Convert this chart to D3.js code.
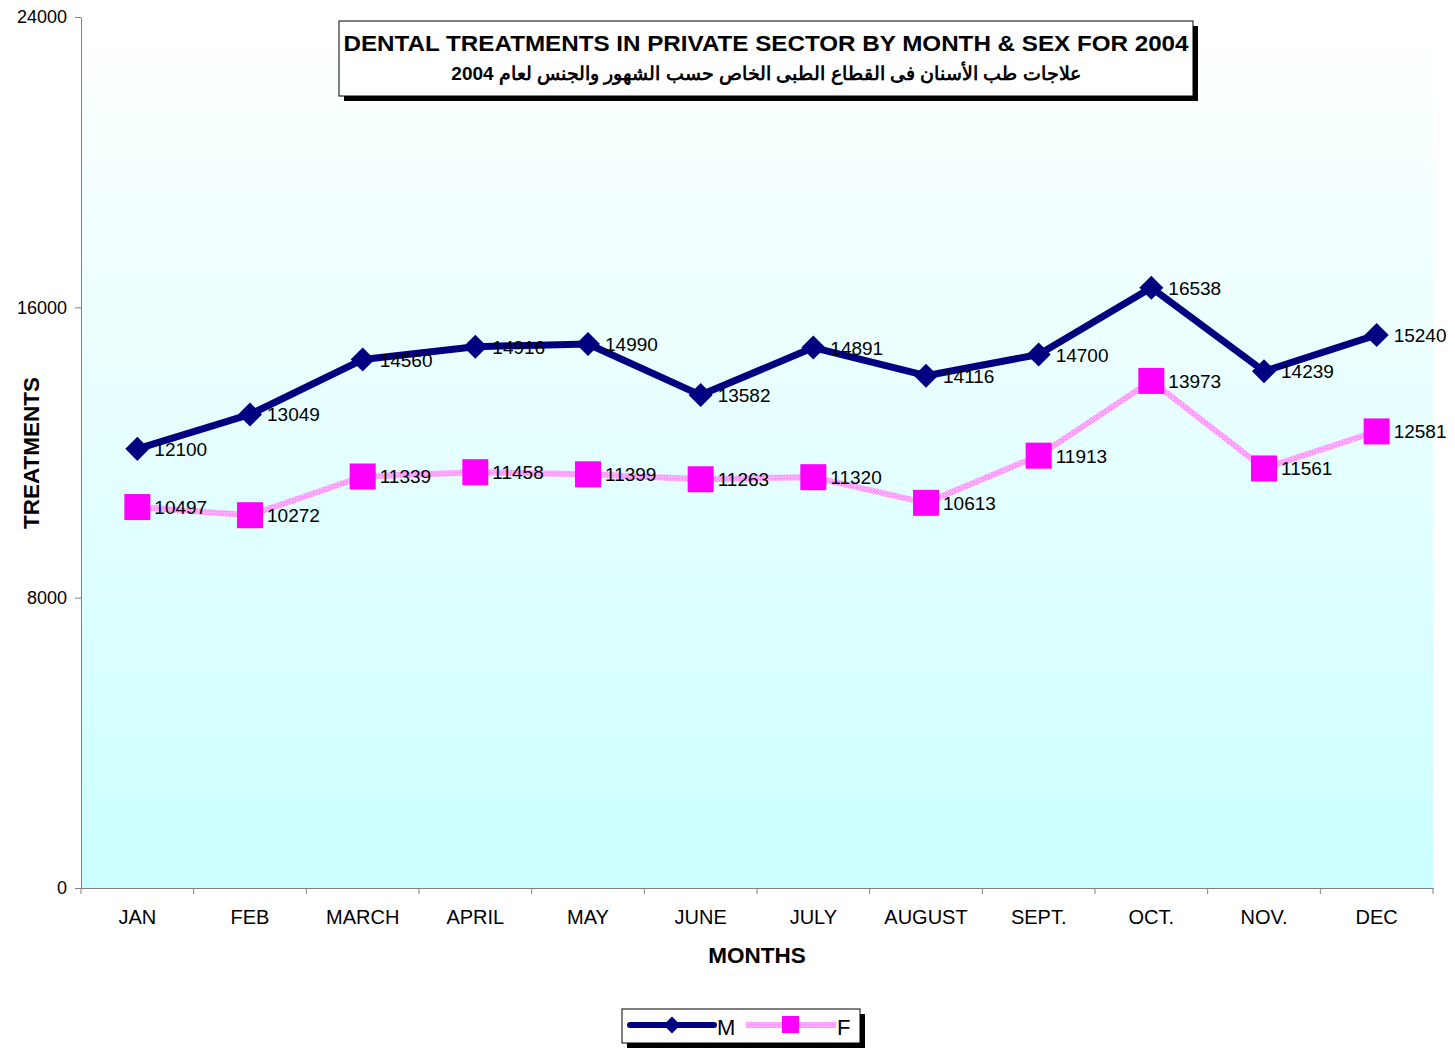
<!DOCTYPE html>
<html>
<head>
<meta charset="utf-8">
<script src="https://cdn.jsdelivr.net/npm/d3@7"></script>
<style>
  body { margin: 0; background: #fff; }
  text { font-family: "Liberation Sans", Arial, sans-serif; }
</style>
</head>
<body>
<svg id="chart" width="1455" height="1048"></svg>
<script>
const months = ['JAN', 'FEB', 'MARCH', 'APRIL', 'MAY', 'JUNE', 'JULY', 'AUGUST', 'SEPT.', 'OCT.', 'NOV.', 'DEC'];
const maleValues = [12100, 13049, 14560, 14916, 14990, 13582, 14891, 14116, 14700, 16538, 14239, 15240];
const femaleValues = [10497, 10272, 11339, 11458, 11399, 11263, 11320, 10613, 11913, 13973, 11561, 12581];
const yTicks = [0, 8000, 16000, 24000];

const svg = d3.select('#chart');
const plotLeft = 81, plotRight = 1433, plotTop = 17, plotBottom = 888;

const x = d3.scaleBand().domain(months).range([plotLeft, plotRight]);
const y = d3.scaleLinear().domain([0, 24000]).range([plotBottom, plotTop]);

// background gradient
const defs = svg.append('defs');
const grad = defs.append('linearGradient')
    .attr('id', 'bg').attr('x1', 0).attr('y1', 0).attr('x2', 0).attr('y2', 1);
grad.append('stop').attr('offset', '0%').attr('stop-color', '#ffffff');
grad.append('stop').attr('offset', '100%').attr('stop-color', '#ccffff');

const pat = defs.append('pattern')
    .attr('id', 'pinkHatch').attr('width', 3).attr('height', 3)
    .attr('patternUnits', 'userSpaceOnUse');
pat.append('rect').attr('width', 3).attr('height', 3).attr('fill', '#ff99ff');
pat.append('rect').attr('width', 1).attr('height', 1).attr('fill', '#ffccff');
pat.append('rect').attr('x', 2).attr('y', 2).attr('width', 1).attr('height', 1).attr('fill', '#ffccff');

svg.append('rect')
    .attr('x', plotLeft).attr('y', plotTop)
    .attr('width', plotRight - plotLeft).attr('height', plotBottom - plotTop)
    .attr('fill', 'url(#bg)');

// axes
const yAxis = d3.axisLeft(y).tickValues(yTicks).tickFormat(d3.format('d'))
    .tickSize(6).tickSizeOuter(0).tickPadding(8);
const gy = svg.append('g').attr('transform', `translate(${plotLeft},0)`).call(yAxis);
gy.select('.domain').attr('stroke', '#808080');
gy.selectAll('.tick line').attr('stroke', '#808080');
gy.selectAll('.tick text').attr('font-size', 18).attr('fill', '#000')
    .attr('font-family', '"Liberation Sans", Arial, sans-serif');

const xAxis = d3.axisBottom(x).tickSize(0).tickPadding(22).tickSizeOuter(0);
const gx = svg.append('g').attr('transform', `translate(0,${plotBottom})`).call(xAxis);
gx.select('.domain').attr('stroke', '#808080');
gx.selectAll('.tick text').attr('font-size', 20).attr('fill', '#000')
    .attr('font-family', '"Liberation Sans", Arial, sans-serif');
// category separators
svg.append('g').selectAll('line')
    .data(months)
    .join('line')
    .attr('x1', d => x(d)).attr('x2', d => x(d))
    .attr('y1', plotBottom).attr('y2', plotBottom + 6)
    .attr('stroke', '#808080');
svg.append('line').attr('x1', plotRight).attr('x2', plotRight)
    .attr('y1', plotBottom).attr('y2', plotBottom + 6).attr('stroke', '#808080');

// axis titles
svg.append('text')
    .attr('transform', 'translate(39,453) rotate(-90)')
    .attr('text-anchor', 'middle')
    .attr('font-size', 22.5).attr('font-weight', 'bold')
    .text('TREATMENTS');
svg.append('text')
    .attr('x', 757).attr('y', 963)
    .attr('text-anchor', 'middle')
    .attr('font-size', 22.5).attr('font-weight', 'bold')
    .text('MONTHS');

const cx = d => x(d) + x.bandwidth() / 2;
const line = d3.line().x(d => cx(d.m)).y(d => y(d.v));
const maleData = months.map((m, i) => ({ m, v: maleValues[i] }));
const femaleData = months.map((m, i) => ({ m, v: femaleValues[i] }));

// female series
svg.append('path')
    .datum(femaleData)
    .attr('d', line)
    .attr('fill', 'none')
    .attr('stroke', 'url(#pinkHatch)')
    .attr('stroke-width', 6);
svg.append('g').selectAll('rect')
    .data(femaleData)
    .join('rect')
    .attr('x', d => cx(d.m) - 13).attr('y', d => y(d.v) - 13)
    .attr('width', 26).attr('height', 26)
    .attr('fill', '#ff00ff');

// male series
svg.append('path')
    .datum(maleData)
    .attr('d', line)
    .attr('fill', 'none')
    .attr('stroke', '#000080')
    .attr('stroke-width', 7)
    .attr('stroke-linejoin', 'round');
const diamond = d3.symbol().type(d3.symbolSquare).size(17 * 17);
svg.append('g').selectAll('path')
    .data(maleData)
    .join('path')
    .attr('d', diamond)
    .attr('transform', d => `translate(${cx(d.m)},${y(d.v)}) rotate(45)`)
    .attr('fill', '#000080');

// data labels
const labels = (data) => {
    svg.append('g').selectAll('text')
        .data(data)
        .join('text')
        .attr('x', d => cx(d.m) + 17)
        .attr('y', d => y(d.v) + 7)
        .attr('font-size', 19)
        .text(d => d.v);
};
labels(femaleData);
labels(maleData);

// title box
svg.append('rect').attr('x', 344).attr('y', 26).attr('width', 854).attr('height', 75).attr('fill', '#000');
svg.append('rect').attr('x', 339).attr('y', 21).attr('width', 854).attr('height', 75)
    .attr('fill', '#fff').attr('stroke', '#000').attr('stroke-width', 1);
svg.append('text')
    .attr('x', 766).attr('y', 51)
    .attr('text-anchor', 'middle')
    .attr('font-size', 22).attr('font-weight', 'bold')
    .attr('textLength', 845).attr('lengthAdjust', 'spacingAndGlyphs')
    .text('DENTAL TREATMENTS IN PRIVATE SECTOR BY MONTH & SEX FOR 2004');
svg.append('text')
    .attr('x', 766).attr('y', 80)
    .attr('text-anchor', 'middle')
    .attr('direction', 'rtl')
    .attr('font-size', 19).attr('font-weight', 'bold')
    .text('علاجات طب الأسنان فى القطاع الطبى الخاص حسب الشهور والجنس لعام 2004');

// legend
svg.append('rect').attr('x', 627).attr('y', 1014).attr('width', 238).attr('height', 34).attr('fill', '#000');
svg.append('rect').attr('x', 622).attr('y', 1009).attr('width', 238).attr('height', 34)
    .attr('fill', '#fff').attr('stroke', '#000');
const leg = svg.append('g');
leg.append('line').attr('x1', 630).attr('x2', 714).attr('y1', 1025).attr('y2', 1025)
    .attr('stroke', '#000080').attr('stroke-width', 6).attr('stroke-linecap', 'round');
leg.append('path').attr('d', d3.symbol().type(d3.symbolSquare).size(12 * 12))
    .attr('transform', 'translate(672,1025) rotate(45)').attr('fill', '#000080');
leg.append('text').attr('x', 717).attr('y', 1035).attr('font-size', 22).text('M');
leg.append('line').attr('x1', 746).attr('x2', 836).attr('y1', 1025).attr('y2', 1025)
    .attr('stroke', 'url(#pinkHatch)').attr('stroke-width', 6);
leg.append('rect').attr('x', 782).attr('y', 1016).attr('width', 17).attr('height', 17).attr('fill', '#ff00ff');
leg.append('text').attr('x', 837).attr('y', 1035).attr('font-size', 22).text('F');
</script>
</body>
</html>
